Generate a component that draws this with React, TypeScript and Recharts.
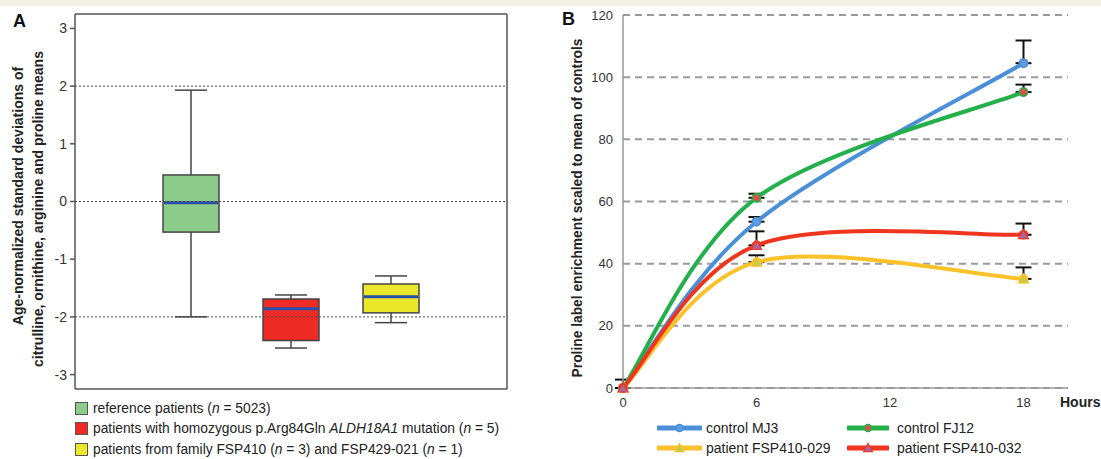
import React from 'react';
import {
  ComposedChart,
  Bar,
  XAxis,
  YAxis,
  ReferenceLine,
  LineChart,
  Line,
  CartesianGrid,
  ErrorBar,
} from 'recharts';

// Panel A: box plot of age-normalized SDs
const groups = ['reference', 'homozygous', 'family'];
const boxMin = [-2.0, -2.54, -2.1];
const boxQ1 = [-0.53, -2.41, -1.93];
const boxMedian = [-0.02, -1.86, -1.65];
const boxQ3 = [0.46, -1.69, -1.43];
const boxMax = [1.93, -1.62, -1.29];
const boxColors = ['#8dcb8b', '#ee2a24', '#ebe82b'];
const yTicksA = [-3, -2, -1, 0, 1, 2, 3];
const refLinesA = [2, 0, -2];

// Panel B: proline label enrichment over time
const hours = [0, 6, 18];
const mj3 = [0, 53.5, 104.5];
const mj3Err = [2.7, 1.5, 7.3];
const fj12 = [0, 61.2, 95.2];
const fj12Err = [0, 1.3, 2.4];
const fsp029 = [0, 40.5, 35.1];
const fsp029Err = [0, 2.2, 3.7];
const fsp032 = [0, 45.9, 49.3];
const fsp032Err = [0, 4.5, 3.6];
const xTicksB = [0, 6, 12, 18];
const yTicksB = [0, 20, 40, 60, 80, 100, 120];

const boxData = groups.map((g, i) => ({
  group: g,
  min: boxMin[i],
  q1: boxQ1[i],
  median: boxMedian[i],
  q3: boxQ3[i],
  max: boxMax[i],
  color: boxColors[i],
}));

const lineData = hours.map((h, i) => ({
  hour: h,
  mj3: mj3[i],
  mj3Err: [0, mj3Err[i]],
  fj12: fj12[i],
  fj12Err: [0, fj12Err[i]],
  fsp029: fsp029[i],
  fsp029Err: [0, fsp029Err[i]],
  fsp032: fsp032[i],
  fsp032Err: [0, fsp032Err[i]],
}));

const series = [
  { key: 'mj3', name: 'control MJ3', color: '#4a8fd8', marker: 'circle', fill: '#5d9de0' },
  { key: 'fj12', name: 'control FJ12', color: '#23b04b', marker: 'circle', fill: '#e0504a' },
  { key: 'fsp029', name: 'patient FSP410-029', color: '#fdc12a', marker: 'triangle', fill: '#b9cf4a' },
  { key: 'fsp032', name: 'patient FSP410-032', color: '#f0351f', marker: 'triangle', fill: '#a06aa8' },
];

const FONT = '"Liberation Sans", Arial, sans-serif';

// Excel-style smoothed line (cardinal bezier, tension 1/6)
function excelSmooth(context: any) {
  let pts: number[][] = [];
  return {
    areaStart() {},
    areaEnd() {},
    lineStart() {
      pts = [];
    },
    point(x: number, y: number) {
      pts.push([+x, +y]);
    },
    lineEnd() {
      const n = pts.length;
      if (!n) return;
      context.moveTo(pts[0][0], pts[0][1]);
      for (let i = 0; i < n - 1; i++) {
        const p0 = pts[Math.max(i - 1, 0)];
        const p1 = pts[i];
        const p2 = pts[i + 1];
        const p3 = pts[Math.min(i + 2, n - 1)];
        context.bezierCurveTo(
          p1[0] + (p2[0] - p0[0]) / 6,
          p1[1] + (p2[1] - p0[1]) / 6,
          p2[0] - (p3[0] - p1[0]) / 6,
          p2[1] - (p3[1] - p1[1]) / 6,
          p2[0],
          p2[1]
        );
      }
    },
  };
}

function BoxShape(props: any) {
  const { x, y, width, height, payload } = props;
  const top = Math.min(y, y + height);
  const h = Math.abs(height);
  const ppu = h / (payload.max - payload.min);
  const py = (v: number) => top + (payload.max - v) * ppu;
  const cx = x + width / 2;
  const cap = 16;
  return (
    <g>
      <line x1={cx} x2={cx} y1={py(payload.max)} y2={py(payload.min)} stroke="#444" strokeWidth={1.5} />
      <line x1={cx - cap} x2={cx + cap} y1={py(payload.max)} y2={py(payload.max)} stroke="#444" strokeWidth={1.5} />
      <line x1={cx - cap} x2={cx + cap} y1={py(payload.min)} y2={py(payload.min)} stroke="#444" strokeWidth={1.5} />
      <rect
        x={x}
        y={py(payload.q3)}
        width={width}
        height={py(payload.q1) - py(payload.q3)}
        fill={payload.color}
        stroke="#444"
        strokeWidth={1.5}
      />
      <line x1={x + 1} x2={x + width - 1} y1={py(payload.median)} y2={py(payload.median)} stroke="#2b4fa8" strokeWidth={3} />
    </g>
  );
}

function Marker({ cx, cy, kind, fill, stroke, size = 4, underlay = true }: any) {
  if (cx == null || cy == null) return null;
  const base = underlay ? <circle cx={cx} cy={cy} r={4.8} fill={stroke} /> : null;
  if (kind === 'triangle') {
    const s = size + 1;
    return (
      <g>
        {base}
        <polygon
          points={`${cx},${cy - s} ${cx - s},${cy + s * 0.8} ${cx + s},${cy + s * 0.8}`}
          fill={fill}
          stroke={stroke}
          strokeWidth={1.2}
        />
      </g>
    );
  }
  return (
    <g>
      {base}
      <circle cx={cx} cy={cy} r={size} fill={fill} stroke={stroke} strokeWidth={1.5} />
    </g>
  );
}

function rotatedLabel(text: string, cx: number, cy: number, size: number) {
  return (
    <div
      style={{
        position: 'absolute',
        left: cx,
        top: cy,
        transform: 'translate(-50%, -50%) rotate(-90deg)',
        whiteSpace: 'nowrap',
        fontWeight: 'bold',
        fontSize: size,
        color: '#222',
      }}
    >
      {text}
    </div>
  );
}

function PanelA() {
  return (
    <div style={{ position: 'absolute', left: 0, top: 0, width: 520, height: 400 }}>
      <ComposedChart
        width={520}
        height={400}
        data={boxData}
        margin={{ top: 13, right: 12, bottom: 10, left: 45 }}
      >
        <XAxis
          dataKey="group"
          height={1}
          tick={false}
          tickLine={false}
          axisLine
          stroke="#555"
          strokeWidth={1.5}
          padding={{ left: 66, right: 66 }}
        />
        <XAxis
          xAxisId="top"
          orientation="top"
          dataKey="group"
          height={1}
          tick={false}
          tickLine={false}
          axisLine
          stroke="#555"
          strokeWidth={1.5}
        />
        <YAxis
          width={30}
          domain={[-3.25, 3.25]}
          ticks={yTicksA}
          axisLine
          stroke="#555"
          strokeWidth={1.5}
          tickSize={5}
          tickMargin={3}
          tick={{ fill: '#333', fontSize: 14 }}
        />
        <YAxis
          yAxisId="right"
          orientation="right"
          width={1}
          tick={false}
          tickLine={false}
          axisLine
          stroke="#555"
          strokeWidth={1.5}
        />
        {refLinesA.map((v) => (
          <ReferenceLine key={v} y={v} stroke="#444" strokeDasharray="2 2" strokeWidth={1} />
        ))}
        <Bar
          dataKey={(d: any) => [d.min, d.max]}
          barSize={56}
          shape={<BoxShape />}
          isAnimationActive={false}
        />
      </ComposedChart>
    </div>
  );
}

function PanelB() {
  return (
    <div style={{ position: 'absolute', left: 560, top: 0, width: 541, height: 459 }}>
      <LineChart
        width={541}
        height={459}
        data={lineData}
        margin={{ top: 15, right: 33, bottom: 49, left: 23 }}
      >
        <CartesianGrid vertical={false} stroke="#9a9a9a" strokeWidth={2} strokeDasharray="7 5" />
        <XAxis
          dataKey="hour"
          type="number"
          domain={[0, 20]}
          ticks={xTicksB}
          height={22}
          axisLine={{ stroke: '#999', strokeWidth: 1.5 }}
          tickLine={false}
          tickSize={6}
          tickMargin={4}
          tick={{ fill: '#333', fontSize: 13 }}
        />
        <YAxis
          width={40}
          domain={[0, 120]}
          ticks={yTicksB}
          axisLine={{ stroke: '#999', strokeWidth: 1.5 }}
          tickLine={false}
          tickSize={6}
          tickMargin={4}
          tick={{ fill: '#333', fontSize: 13 }}
        />
        {series.map((s) => (
          <Line
            key={s.key}
            dataKey={s.key}
            type={excelSmooth as any}
            stroke={s.color}
            strokeWidth={4}
            isAnimationActive={false}
            dot={(p: any) => (
              <Marker key={`${s.key}-${p.index}`} cx={p.cx} cy={p.cy} kind={s.marker} fill={s.fill} stroke={s.color} />
            )}
            activeDot={false}
          >
            <ErrorBar dataKey={`${s.key}Err`} direction="y" width={8} stroke="#111" strokeWidth={2} />
          </Line>
        ))}
      </LineChart>
    </div>
  );
}

const legendA = [
  <>reference patients (<i>n</i> = 5023)</>,
  <>patients with homozygous p.Arg84Gln <i>ALDH18A1</i> mutation (<i>n</i> = 5)</>,
  <>patients from family FSP410 (<i>n</i> = 3) and FSP429-021 (<i>n</i> = 1)</>,
];

export default function App() {
  return (
    <div
      style={{
        position: 'absolute',
        left: 0,
        top: 0,
        width: 1101,
        height: 459,
        background: '#fff',
        fontFamily: FONT,
        overflow: 'hidden',
      }}
    >
      <div style={{ position: 'absolute', left: 0, top: 0, width: 1101, height: 6, background: '#f5f1e2' }} />
      <PanelA />
      <PanelB />

      <div style={{ position: 'absolute', left: 13, top: 11, fontWeight: 'bold', fontSize: 18, color: '#111' }}>A</div>
      <div style={{ position: 'absolute', left: 562, top: 9, fontWeight: 'bold', fontSize: 18, color: '#111' }}>B</div>

      {rotatedLabel('Age-normalized standard deviations of', 18, 196, 14)}
      {rotatedLabel('citrulline, ornithine, arginine and proline means', 38, 209, 14)}
      {rotatedLabel('Proline label enrichment scaled to mean of controls', 577, 208, 13.8)}

      <div style={{ position: 'absolute', left: 1060, top: 394, fontWeight: 'bold', fontSize: 14, color: '#222' }}>Hours</div>

      {legendA.map((txt, i) => (
        <div
          key={i}
          style={{
            position: 'absolute',
            left: 75,
            top: 400 + i * 20.5,
            height: 16,
            display: 'flex',
            alignItems: 'center',
            fontSize: 13.8,
            color: '#222',
            whiteSpace: 'nowrap',
          }}
        >
          <span
            style={{
              display: 'inline-block',
              width: 11,
              height: 11,
              background: boxColors[i],
              border: '1px solid #555',
              marginRight: 5,
            }}
          />
          <span>{txt}</span>
        </div>
      ))}

      {series.map((s, i) => {
        const col = i % 2;
        const row = Math.floor(i / 2);
        const left = col === 0 ? 657 : 847;
        const w = col === 0 ? 45 : 42;
        return (
          <div
            key={s.key}
            style={{
              position: 'absolute',
              left,
              top: 420 + row * 20,
              height: 16,
              display: 'flex',
              alignItems: 'center',
              fontSize: 14,
              color: '#222',
              whiteSpace: 'nowrap',
            }}
          >
            <svg width={w} height={14} style={{ marginRight: col === 0 ? 4 : 8 }}>
              <line x1={1} x2={w - 1} y1={7} y2={7} stroke={s.color} strokeWidth={5} strokeLinecap="round" />
              <Marker cx={w / 2} cy={7} kind={s.marker} fill={s.fill} stroke={s.color} size={3.5} underlay={false} />
            </svg>
            <span>{s.name}</span>
          </div>
        );
      })}
    </div>
  );
}
